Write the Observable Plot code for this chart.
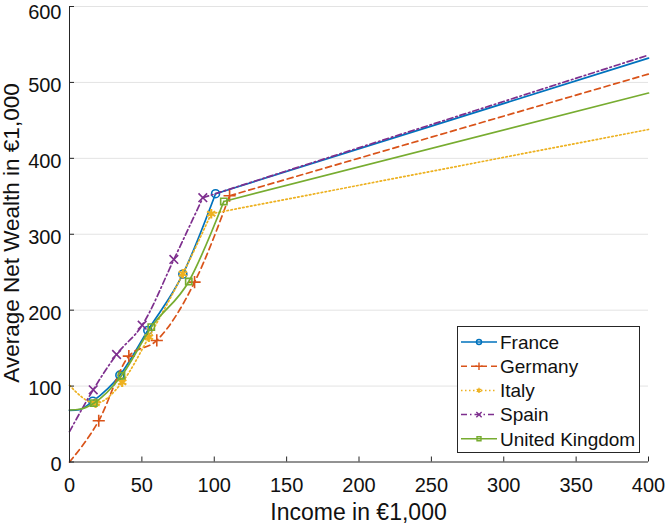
<!DOCTYPE html>
<html><head><meta charset="utf-8">
<script src="https://cdn.jsdelivr.net/npm/d3@7"></script>
<script src="https://cdn.jsdelivr.net/npm/@observablehq/plot@0.6"></script>
<style>
body{margin:0;background:#fff}
#chart{position:relative;width:666px;height:524px;overflow:hidden}
#chart svg{overflow:visible}
</style>
</head><body><div id="chart"></div>
<script>
// ---- data ----
const countries = ["France", "Germany", "Italy", "Spain", "United Kingdom"];
const xTicks = [0, 50, 100, 150, 200, 250, 300, 350, 400];
const yTicks = [0, 100, 200, 300, 400, 500, 600];

const incomeFrance = [0, 7, 16.1, 34.8, 54.1, 78.3, 100.9, 400];
const wealthFrance = [68, 69, 80.1, 114.4, 173.3, 247.4, 353.4, 532];
const markFrance   = [0, 0, 1, 1, 1, 1, 1, 0];

const incomeGermany = [0, 20.2, 41.0, 60.3, 86.4, 110.6, 400];
const wealthGermany = [0, 54.3, 139.4, 160.1, 236.9, 350.7, 511];
const markGermany   = [0, 1, 1, 1, 1, 1, 0];

const incomeItaly = [0, 18.0, 36.4, 54.8, 78.3, 97.9, 400];
const wealthItaly = [101, 77.5, 105.1, 164.4, 248.0, 327.0, 438];
const markItaly   = [0, 1, 1, 1, 1, 1, 0];

const incomeSpain = [0, 16.4, 32.5, 50.2, 72.1, 92.1, 400];
const wealthSpain = [40, 95.1, 141.6, 180.2, 266.8, 348.1, 536];
const markSpain   = [0, 1, 1, 1, 1, 1, 0];

const incomeUK = [0, 7, 16.8, 35.9, 56.5, 82.4, 106.6, 400];
const wealthUK = [68.5, 69.5, 77.5, 113.6, 177.6, 237.8, 343.2, 486];
const markUK   = [0, 0, 1, 1, 1, 1, 1, 0];

const colors  = ["#0072BD", "#D95319", "#EDB120", "#7E2F8E", "#77AC30"];
const dashes  = [null, "6,4", "1.5,2.5", "6,3,1.5,3", null];
const symbols = ["circle", "plus", "asterisk", "times", "square2"];

const incomes = [incomeFrance, incomeGermany, incomeItaly, incomeSpain, incomeUK];
const wealths = [wealthFrance, wealthGermany, wealthItaly, wealthSpain, wealthUK];
const marks   = [markFrance, markGermany, markItaly, markSpain, markUK];

const seriesRows = countries.map((c, k) =>
  incomes[k].map((x, i) => ({country: c, income: x, wealth: wealths[k][i], marker: marks[k][i] === 1})));

const FONT = "'Liberation Sans', Arial, Helvetica, sans-serif";

const lineMarks = [];
countries.forEach((c, k) => {
  const rows = seriesRows[k];
  const smooth = rows.slice(0, -1);   // start .. last marker: smooth spline
  const tail = rows.slice(-2);        // last marker .. 400: straight
  const style = {x: "income", y: "wealth", stroke: colors[k], strokeWidth: 1.7, strokeDasharray: dashes[k]};
  lineMarks.push(Plot.line(smooth, {...style, curve: "monotone-x"}));
  lineMarks.push(Plot.line(tail, {...style, curve: "linear"}));
  lineMarks.push(Plot.dot(rows.filter(d => d.marker), {
    x: "income", y: "wealth", symbol: symbols[k], stroke: colors[k],
    fill: "none", r: k === 2 ? 4.5 : 4, strokeWidth: k === 2 ? 2.2 : 1.6
  }));
});

const topTick = yTicks[yTicks.length - 1];

const chart = Plot.plot({
  width: 666, height: 524,
  marginLeft: 69, marginRight: 18, marginTop: 6, marginBottom: 62.5,
  style: {fontFamily: FONT, fontSize: "20px", background: "white", color: "#262626", overflow: "visible"},
  x: {domain: [0, 400], label: null},
  y: {domain: [0, 600], label: null},
  marks: [
    Plot.gridY(yTicks.filter(v => v > 0), {stroke: "#e3e3e3", strokeOpacity: 1, strokeWidth: 1}),
    ...lineMarks,
    Plot.ruleY([0], {stroke: "#262626"}),
    Plot.ruleX([0], {stroke: "#262626"}),
    Plot.axisX(xTicks, {tickSize: 0, tickPadding: 15.5, fontSize: 20, fill: "#111"}),
    Plot.axisX(xTicks, {tickSize: -5, tickFormat: () => "", stroke: "#262626"}),
    Plot.axisY(yTicks.filter(v => v < topTick), {tickSize: 0, tickPadding: 8, dy: 3, fontSize: 20, fill: "#111"}),
    Plot.axisY([topTick], {tickSize: 0, tickPadding: 8, dy: 6, fontSize: 20, fill: "#111"}),
    Plot.axisY(yTicks, {tickSize: -5, tickFormat: () => "", stroke: "#262626"})
  ]
});

const svg = d3.select(chart);
// axis titles
svg.append("text").attr("x", 358.5).attr("y", 520).attr("text-anchor", "middle")
  .attr("font-family", FONT).attr("font-size", 23).attr("fill", "#111")
  .text("Income in €1,000");
svg.append("text").attr("transform", "translate(19,233) rotate(-90)").attr("text-anchor", "middle")
  .attr("font-family", FONT).attr("font-size", 22.5).attr("fill", "#111")
  .text("Average Net Wealth in €1,000");

// legend
const lg = svg.append("g").attr("transform", "translate(457.5,326.5)");
lg.append("rect").attr("width", 182).attr("height", 126).attr("fill", "white").attr("stroke", "#262626").attr("stroke-width", 1);
const symMap = {circle: d3.symbolCircle, plus: d3.symbolPlus, asterisk: d3.symbolAsterisk, times: d3.symbolTimes, square2: d3.symbolSquare2};
countries.forEach((c, k) => {
  const cy = 15.5 + 24.2 * k;
  lg.append("line").attr("x1", 3.5).attr("x2", 39.5).attr("y1", cy).attr("y2", cy)
    .attr("stroke", colors[k]).attr("stroke-width", 1.5).attr("stroke-dasharray", dashes[k]);
  lg.append("path").attr("transform", `translate(21.5,${cy})`)
    .attr("d", d3.symbol(symMap[symbols[k]], 20)())
    .attr("fill", "none").attr("stroke", colors[k]).attr("stroke-width", 1.4);
  lg.append("text").attr("x", 42.5).attr("y", cy).attr("dy", "0.36em").attr("text-anchor", "start")
    .attr("font-family", FONT).attr("font-size", 19).attr("fill", "#111").text(c);
});

document.getElementById("chart").appendChild(chart);
</script>
</body></html>
